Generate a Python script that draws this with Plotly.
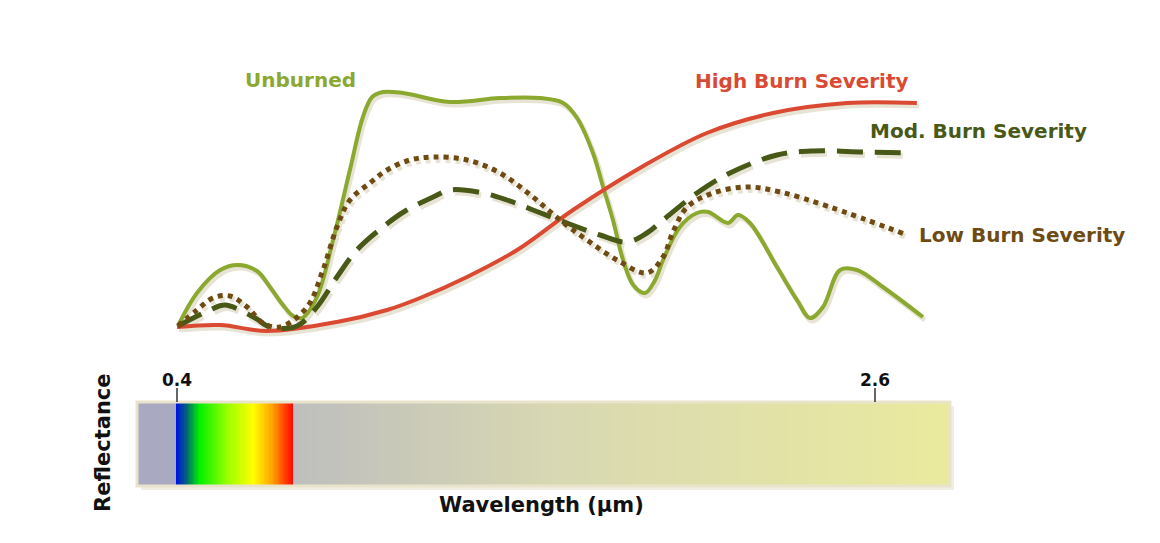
import numpy as np
import plotly.graph_objects as go

W, H = 1160, 543

# ---------------- data (wavelength in µm, relative reflectance) ----------------
unburned_wl = [0.403, 0.463, 0.536, 0.592, 0.652, 0.693, 0.734, 0.766, 0.794, 0.841, 0.892, 0.945,
               0.986, 1.015, 1.049, 1.112, 1.260, 1.418, 1.544, 1.617, 1.661, 1.711, 1.743, 1.774,
               1.806, 1.838, 1.875, 1.907, 1.932, 1.985, 2.039, 2.074, 2.137, 2.168, 2.206, 2.291,
               2.354, 2.395, 2.436, 2.490, 2.543, 2.625, 2.751]
unburned_r = [0.016, 0.148, 0.240, 0.260, 0.236, 0.172, 0.100, 0.056, 0.048, 0.132, 0.360, 0.640,
              0.852, 0.932, 0.952, 0.948, 0.912, 0.928, 0.928, 0.908, 0.848, 0.708, 0.572, 0.440,
              0.280, 0.180, 0.148, 0.200, 0.280, 0.412, 0.468, 0.472, 0.428, 0.460, 0.428, 0.252,
              0.120, 0.048, 0.092, 0.240, 0.240, 0.172, 0.052]

high_wl = [0.400, 0.536, 0.684, 0.904, 1.062, 1.166, 1.314, 1.472, 1.648, 1.859, 2.070, 2.279,
           2.512, 2.732]
high_r = [0.012, 0.020, -0.004, 0.032, 0.080, 0.128, 0.212, 0.320, 0.480, 0.648, 0.788, 0.868,
          0.908, 0.908]

mod_wl = [0.403, 0.504, 0.551, 0.646, 0.693, 0.778, 0.841, 0.904, 0.967, 1.049, 1.119, 1.207,
          1.260, 1.364, 1.440, 1.522, 1.629, 1.733, 1.818, 1.881, 1.932, 2.039, 2.143, 2.291,
          2.405, 2.562, 2.701]
mod_r = [0.016, 0.080, 0.100, 0.048, 0.012, 0.016, 0.092, 0.212, 0.320, 0.412, 0.476, 0.532,
         0.560, 0.548, 0.520, 0.480, 0.428, 0.380, 0.352, 0.388, 0.440, 0.548, 0.628, 0.700,
         0.716, 0.712, 0.708]

low_wl = [0.403, 0.463, 0.513, 0.567, 0.621, 0.671, 0.725, 0.810, 0.860, 0.904, 0.945, 1.008,
          1.062, 1.134, 1.207, 1.314, 1.418, 1.522, 1.607, 1.692, 1.787, 1.881, 1.932, 1.963,
          2.008, 2.089, 2.197, 2.301, 2.458, 2.701]
low_r = [0.016, 0.080, 0.128, 0.136, 0.092, 0.028, 0.012, 0.092, 0.240, 0.412, 0.520, 0.588,
         0.640, 0.680, 0.692, 0.680, 0.628, 0.532, 0.440, 0.360, 0.280, 0.228, 0.292, 0.392,
         0.492, 0.548, 0.572, 0.552, 0.492, 0.380]

tick_values = [0.4, 2.6]
tick_labels = ["0.4", "2.6"]

bar_start, bar_end = 0.274, 2.836   # extent of the spectrum strip (µm)
spectrum_stops = [  # (wavelength, colour)
    (0.274, "#A9A9C2"), (0.3995, "#A9A9C2"),
    (0.400, "#0016E0"), (0.428, "#00607A"), (0.470, "#00F000"), (0.560, "#9CFF00"),
    (0.640, "#FFFF00"), (0.700, "#FFA200"), (0.7675, "#FF0000"),
    (0.768, "#BEBEBE"), (1.600, "#D8D8B2"), (2.836, "#EAEA9F"),
]

# ---------------- pixel geometry helpers ----------------
OFF = 8  # page body margin
PX04, PX26 = 177.0, 875.0
scale = (PX26 - PX04) / (2.6 - 0.4)  # px per µm


def wl_at(px):
    return 0.4 + (px - PX04) / scale


def xp(px):
    return (px - OFF) / W


def yp(py):
    return 1 - (py - OFF) / H


# curve area: reflectance r maps to py = 330 - 250*r
def r_at(py):
    return (330 - py) / 250.0


DX_L, DX_R = 116, 1044
CY_T, CY_B = 60, 350
xrange_ = [wl_at(DX_L), wl_at(DX_R)]
yrange_ = [r_at(CY_B), r_at(CY_T)]
SH_DX, SH_DY = 2, 3   # shadow offset in px

fig = go.Figure()

series = [
    (unburned_wl, unburned_r, "#8BA82F", 4, "solid"),
    (high_wl, high_r, "#DA4A33", 4, "solid"),
    (mod_wl, mod_r, "#485816", 5, "26px,12px"),
    (low_wl, low_r, "#6E4B12", 5, "5px,5px"),
]

shadow_col = "#E8E4D5"
for xs, ys, col, w, dash in series:
    fig.add_trace(go.Scatter(x=xs, y=ys, mode="lines", xaxis="x", yaxis="y",
                             line=dict(color=shadow_col, width=w + 1, dash=dash, shape="spline", smoothing=1.0),
                             hoverinfo="skip", showlegend=False))
for xs, ys, col, w, dash in series:
    fig.add_trace(go.Scatter(x=xs, y=ys, mode="lines", xaxis="x2", yaxis="y2",
                             line=dict(color=col, width=w, dash=dash, shape="spline", smoothing=1.0),
                             showlegend=False))

# spectrum strip as a heatmap
step = 0.004
hx = np.arange(bar_start + step / 2, bar_end, step)
span = bar_end - bar_start
cs = [[(w - bar_start) / span, c] for w, c in spectrum_stops]
cs[0][0] = 0.0
cs[-1][0] = 1.0
fig.add_trace(go.Heatmap(x=hx, y=[0], z=[hx], xaxis="x2", yaxis="y3", colorscale=cs,
                         zmin=bar_start, zmax=bar_end, showscale=False, hoverinfo="skip", zsmooth=False))

BAR_T, BAR_B = 402, 486
axis_common = dict(visible=False, showgrid=False, zeroline=False, fixedrange=True)
fig.update_layout(
    width=W, height=H, margin=dict(l=0, r=0, t=0, b=0),
    paper_bgcolor="white", plot_bgcolor="rgba(0,0,0,0)",
    xaxis=dict(domain=[xp(DX_L + SH_DX), xp(DX_R + SH_DX)], range=xrange_, anchor="y", **axis_common),
    yaxis=dict(domain=[yp(CY_B + SH_DY), yp(CY_T + SH_DY)], range=yrange_, anchor="x", **axis_common),
    xaxis2=dict(domain=[xp(DX_L), xp(DX_R)], range=xrange_, anchor="y2", **axis_common),
    yaxis2=dict(domain=[yp(CY_B), yp(CY_T)], range=yrange_, anchor="x2", **axis_common),
    yaxis3=dict(domain=[yp(BAR_B), yp(BAR_T)], range=[-0.5, 0.5], anchor="x2", **axis_common),
    showlegend=False,
)

shapes = []
# strip shadow
shapes.append(dict(type="rect", xref="paper", yref="paper",
                   x0=xp(137 + 4), x1=xp(950 + 4), y0=yp(486 + 4), y1=yp(402 + 4),
                   fillcolor="#F1EEE2", line=dict(width=0), layer="below"))
# strip frame
shapes.append(dict(type="rect", xref="paper", yref="paper",
                   x0=xp(137), x1=xp(950), y0=yp(486), y1=yp(402),
                   fillcolor="rgba(0,0,0,0)", line=dict(color="#EAE3CB", width=3), layer="above"))
for tv in tick_values:
    shapes.append(dict(type="line", xref="x2", yref="paper", x0=tv, x1=tv,
                       y0=yp(402), y1=yp(388), line=dict(color="#333333", width=1.5)))
fig.update_layout(shapes=shapes)

FONT = "DejaVu Sans"
ann = []
for tv, tl in zip(tick_values, tick_labels):
    ann.append(dict(x=tv, xref="x2", y=yp(380), yref="paper", text="<b>%s</b>" % tl, showarrow=False,
                    font=dict(family=FONT, size=17, color="#111111"), xanchor="center", yanchor="middle"))
ann += [
    dict(x=xp(300), y=yp(80), text="<b>Unburned</b>", font=dict(family=FONT, size=20, color="#8BA82F"),
         xanchor="center"),
    dict(x=xp(802), y=yp(81), text="<b>High Burn Severity</b>", font=dict(family=FONT, size=20, color="#DA4A33"),
         xanchor="center"),
    dict(x=xp(868), y=yp(131), text="<b>Mod. Burn Severity</b>", font=dict(family=FONT, size=20, color="#485816"),
         xanchor="left"),
    dict(x=xp(917), y=yp(235), text="<b>Low Burn Severity</b>", font=dict(family=FONT, size=20, color="#6E4B12"),
         xanchor="left"),
    dict(x=xp(541), y=yp(505), text="<b>Wavelength (µm)</b>", font=dict(family=FONT, size=21, color="#111111"),
         xanchor="center"),
    dict(x=xp(103), y=yp(443), text="<b>Reflectance</b>", font=dict(family=FONT, size=21, color="#111111"),
         xanchor="center", textangle=-90),
]
for a in ann:
    a.setdefault("xref", "paper")
    a.setdefault("yref", "paper")
    a.setdefault("showarrow", False)
    a.setdefault("yanchor", "middle")
fig.update_layout(annotations=ann)

fig.write_html("out.html")
